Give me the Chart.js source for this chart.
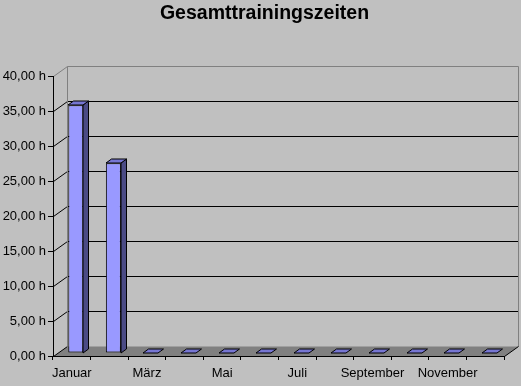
<!DOCTYPE html>
<html>
<head>
<meta charset="utf-8">
<script src="https://cdn.jsdelivr.net/npm/chart.js@4/dist/chart.umd.min.js"></script>
<style>
  html, body { margin: 0; padding: 0; background: #c0c0c0; }
  #wrap { width: 521px; height: 386px; position: relative; }
</style>
</head>
<body>
<div id="wrap"><canvas id="c" width="521" height="386"></canvas></div>
<script>
// ---- data ----
const categories = ['Januar', 'Februar', 'März', 'April', 'Mai', 'Juni', 'Juli', 'August', 'September', 'Oktober', 'November', 'Dezember'];
const xTickLabels = ['Januar', '', 'März', '', 'Mai', '', 'Juli', '', 'September', '', 'November', ''];
const trainingHours = [35.4, 27.1, 0, 0, 0, 0, 0, 0, 0, 0, 0, 0];
const yTickLabels = ['0,00 h', '5,00 h', '10,00 h', '15,00 h', '20,00 h', '25,00 h', '30,00 h', '35,00 h', '40,00 h'];
const chartTitle = 'Gesamttrainingszeiten';

// ---- 3D look ----
const WALL_DX = 14, WALL_DY = -10;      // depth of the floor / walls
const BAR_OFF_X = 4, BAR_OFF_Y = -3;    // bars sit slightly behind the front plane
const BAR_DX = 5.5, BAR_DY = -4;        // bar depth

const FONT = '"Liberation Sans", Arial, sans-serif';

const threeD = {
  id: 'threeD',
  beforeDraw(chart) {
    const ctx = chart.ctx;
    const { left, right, top, bottom } = chart.chartArea;
    const y = chart.scales.y;
    ctx.save();
    ctx.fillStyle = '#c0c0c0';
    ctx.fillRect(0, 0, chart.width, chart.height);
    const a = v => Math.round(v) + 0.5;
    const L = a(left), R = a(right), T = a(top), B = a(bottom);
    // floor
    ctx.beginPath();
    ctx.moveTo(L, B);
    ctx.lineTo(R, B);
    ctx.lineTo(R + WALL_DX, B + WALL_DY);
    ctx.lineTo(L + WALL_DX, B + WALL_DY);
    ctx.closePath();
    ctx.fillStyle = '#808080';
    ctx.fill();
    ctx.lineWidth = 1;
    // back grid lines & left wall diagonals
    y.ticks.forEach(t => {
      const py = a(y.getPixelForValue(t.value));
      if (t.value > 0 && t.value < y.max) {
        ctx.strokeStyle = '#000';
        ctx.beginPath();
        ctx.moveTo(L + WALL_DX, py + WALL_DY);
        ctx.lineTo(R + WALL_DX, py + WALL_DY);
        ctx.stroke();
      }
      ctx.strokeStyle = t.value === y.max ? '#808080' : '#000';
      ctx.beginPath();
      ctx.moveTo(L, py);
      ctx.lineTo(L + WALL_DX, py + WALL_DY);
      ctx.stroke();
    });
    // back wall border
    ctx.strokeStyle = '#808080';
    ctx.beginPath();
    ctx.moveTo(L + WALL_DX, B + WALL_DY);
    ctx.lineTo(L + WALL_DX, T + WALL_DY);
    ctx.lineTo(R + WALL_DX, T + WALL_DY);
    ctx.lineTo(R + WALL_DX, B + WALL_DY);
    ctx.stroke();
    // floor right edge
    ctx.strokeStyle = '#000';
    ctx.beginPath();
    ctx.moveTo(R, B);
    ctx.lineTo(R + WALL_DX, B + WALL_DY);
    ctx.stroke();
    ctx.restore();
  },
  beforeDatasetsDraw(chart) {
    chart.ctx.save();
    chart.ctx.translate(BAR_OFF_X, BAR_OFF_Y);
  },
  afterDatasetsDraw(chart) {
    const ctx = chart.ctx;
    const meta = chart.getDatasetMeta(0);
    ctx.lineWidth = 1;
    ctx.strokeStyle = '#000';
    meta.data.forEach(bar => {
      const p = bar.getProps(['x', 'y', 'base', 'width'], true);
      const l = Math.round(p.x - p.width / 2), r = Math.round(p.x + p.width / 2);
      const t = Math.round(p.y), b = Math.round(p.base);
      // side face
      if (b - t > 0) {
        ctx.beginPath();
        ctx.moveTo(r, t);
        ctx.lineTo(r + BAR_DX, t + BAR_DY);
        ctx.lineTo(r + BAR_DX, b + BAR_DY);
        ctx.lineTo(r, b);
        ctx.closePath();
        ctx.fillStyle = '#4b4b85';
        ctx.fill();
        ctx.stroke();
      }
      // top face
      ctx.beginPath();
      ctx.moveTo(l, t);
      ctx.lineTo(r, t);
      ctx.lineTo(r + BAR_DX, t + BAR_DY);
      ctx.lineTo(l + BAR_DX, t + BAR_DY);
      ctx.closePath();
      ctx.fillStyle = '#7676d2';
      ctx.fill();
      ctx.stroke();
    });
    ctx.restore();
  },
  afterDraw(chart) {
    const ctx = chart.ctx;
    ctx.save();
    ctx.fillStyle = '#000';
    ctx.font = 'bold 19.5px ' + FONT;
    ctx.textAlign = 'center';
    ctx.textBaseline = 'alphabetic';
    ctx.fillText(chartTitle, 264.5, 18.5);
    ctx.restore();
  }
};

new Chart(document.getElementById('c'), {
  type: 'bar',
  data: {
    labels: categories,
    datasets: [{
      data: trainingHours,
      backgroundColor: '#9999ff',
      borderColor: '#000',
      borderWidth: 1,
      borderSkipped: false,
      barPercentage: 0.4,
      categoryPercentage: 1.0
    }]
  },
  options: {
    responsive: false,
    animation: false,
    devicePixelRatio: 1,
    layout: { padding: { left: 0, right: 17, top: 76, bottom: 0 } },
    plugins: {
      legend: { display: false },
      tooltip: { enabled: false },
      title: { display: false }
    },
    scales: {
      x: {
        grid: { drawOnChartArea: false, drawTicks: true, tickLength: 4, color: '#000', offset: true },
        border: { display: true, color: '#000', width: 1 },
        ticks: {
          autoSkip: false, maxRotation: 0, color: '#000', padding: 6,
          font: { family: FONT, size: 13 },
          callback: (v, i) => xTickLabels[i]
        },
        afterFit: s => { s.height = 30; }
      },
      y: {
        min: 0, max: 40,
        grid: { drawOnChartArea: false, drawTicks: true, tickLength: 5, color: '#000' },
        border: { display: true, color: '#000', width: 1 },
        ticks: {
          stepSize: 5, color: '#000', padding: 2,
          font: { family: FONT, size: 13 },
          callback: (v, i) => yTickLabels[i]
        },
        afterFit: s => { s.width = 53; }
      }
    }
  },
  plugins: [threeD]
});
</script>
</body>
</html>
